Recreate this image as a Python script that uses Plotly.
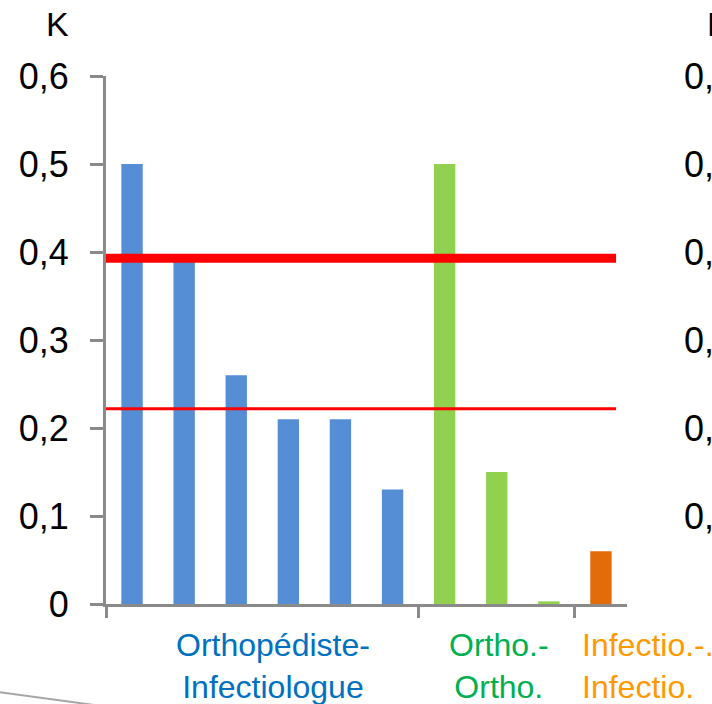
import plotly.graph_objects as go

# ---- data ----
slots = list(range(10))
blue_vals = [0.50, 0.39, 0.26, 0.21, 0.21, 0.13]
green_vals = [0.50, 0.15, 0.003]
orange_vals = [0.06]
thresholds = [0.393, 0.222]
threshold_widths = [9, 3]
ytick_vals = [0, 0.1, 0.2, 0.3, 0.4, 0.5, 0.6]
ytick_text = ["0", "0,1", "0,2", "0,3", "0,4", "0,5", "0,6"]
group_labels = ["Orthopédiste-<br>Infectiologue", "Ortho.-<br>Ortho.", "Infectio.-.<br>Infectio."]
axis_title = "K"

BLUE = "#558ED5"
GREEN = "#92D050"
ORANGE = "#E36C09"
RED = "#FF0000"
AXIS = "#8A8A8A"
FONT = "Liberation Sans, Arial, sans-serif"

fig = go.Figure()
fig.add_trace(go.Bar(x=slots[0:6], y=blue_vals, marker_color=BLUE, marker_line_width=0, width=0.41))
fig.add_trace(go.Bar(x=slots[6:9], y=green_vals, marker_color=GREEN, marker_line_width=0, width=0.41))
fig.add_trace(go.Bar(x=slots[9:10], y=orange_vals, marker_color=ORANGE, marker_line_width=0, width=0.41))

for t, w in zip(thresholds, threshold_widths):
    fig.add_trace(go.Scatter(x=[-0.5, 9.29], y=[t, t], mode="lines",
                             line=dict(color=RED, width=w), hoverinfo="skip"))

fig.update_layout(
    width=712, height=704,
    margin=dict(l=106, r=85, t=76, b=100),
    paper_bgcolor="white", plot_bgcolor="white",
    showlegend=False,
    font=dict(family=FONT, color="black"),
    barmode="overlay",
)
fig.update_xaxes(
    range=[-0.5, 9.5], showgrid=False, zeroline=False,
    showline=True, linecolor=AXIS, linewidth=3,
    tickvals=[-0.5, 5.5, 8.5], ticks="outside", ticklen=11, tickwidth=3, tickcolor=AXIS,
    showticklabels=False,
)
fig.update_yaxes(
    range=[0, 0.6], showgrid=False, zeroline=False,
    showline=True, linecolor=AXIS, linewidth=3,
    tickvals=ytick_vals, ticktext=ytick_text,
    ticks="outside", ticklen=13, tickwidth=3, tickcolor=AXIS,
    tickfont=dict(size=36, family=FONT, color="black"),
    ticklabelstandoff=14,
)

# group labels
fig.add_annotation(x=2.7, y=-0.118, xref="x", yref="paper", text=group_labels[0],
                   showarrow=False, xanchor="center", yanchor="middle",
                   font=dict(size=32, color="#0070C0", family=FONT))
fig.add_annotation(x=7.05, y=-0.118, xref="x", yref="paper", text=group_labels[1],
                   showarrow=False, xanchor="center", yanchor="middle",
                   font=dict(size=32, color="#00B050", family=FONT))
fig.add_annotation(x=8.6, y=-0.118, xref="x", yref="paper", text=group_labels[2],
                   showarrow=False, xanchor="left", yanchor="middle", align="left",
                   font=dict(size=32, color="#FF9900", family=FONT))

# axis title "K"
fig.add_annotation(x=-0.093, y=1.098, xref="paper", yref="paper", text=axis_title,
                   showarrow=False, xanchor="center", yanchor="middle",
                   font=dict(size=34, color="black", family=FONT))

# neighbouring chart's cut-off labels on the right
fig.add_annotation(x=1.150, y=1.098, xref="paper", yref="paper", text=axis_title,
                   showarrow=False, xanchor="left", yanchor="middle",
                   font=dict(size=34, color="black", family=FONT))
for v, t in zip(ytick_vals[1:], ytick_text[1:]):
    fig.add_annotation(x=1.106, y=v, xref="paper", yref="y", text=t,
                       showarrow=False, xanchor="left", yanchor="middle",
                       font=dict(size=36, color="black", family=FONT))

# slide decoration line bottom-left
fig.add_shape(type="line", xref="paper", yref="paper",
              x0=-0.205, y0=-0.167, x1=-0.01, y1=-0.193,
              line=dict(color="#A6A6A6", width=2))

fig.write_html("out.html")
